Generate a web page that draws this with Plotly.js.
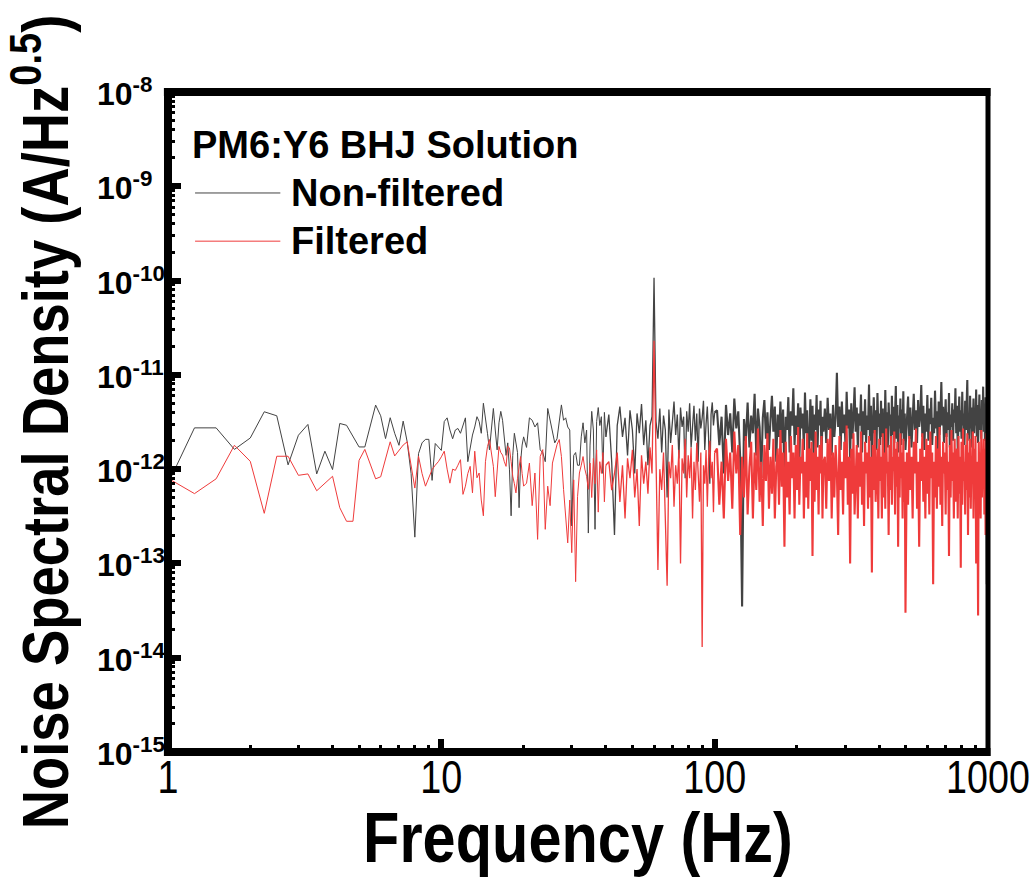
<!DOCTYPE html>
<html><head><meta charset="utf-8">
<script src="https://cdn.plot.ly/plotly-3.0.1.min.js"></script>
<style>html,body{margin:0;padding:0;background:#fff;}#chart{width:1032px;height:891px;}</style>
</head><body><div id="chart"></div>
<script>
// Frequencies (Hz)
const freqA = [1,1.25,1.5,1.75,2,2.25,2.5,2.75,3,3.25,3.5,3.75,4,4.25,4.5,4.75,5,5.25,5.5,5.75,6,6.25,6.5,6.75,7,7.25,7.5,7.75,8,8.25,8.5,8.75,9,9.25,9.5,9.75,10];
const freqB = [10.25,10.5,10.75,11,11.25,11.5,11.75,12,12.25,12.5,12.75,13,13.25,13.5,13.75,14,14.25,14.5,14.75,15,15.25,15.5,15.75,16,16.25,16.5,16.75,17,17.25,17.5,17.75,18,18.25,18.5,18.75,19,19.25,19.5,19.75,20];
const freqC = [20.5,21,21.5,22,22.5,23,23.5,24,24.5,25,25.5,26,26.5,27,27.5,28,28.5,29,29.5,30,30.5,31,31.5,32,32.5,33,33.5,34,34.5,35,35.5,36,36.5,37,37.5,38,38.5,39,39.5,40];
const freqD = [41,42,43,44,45,46,47,48,49,50,51,52,53,54,55,56,57,58,59,60,61,62,63,64,65,66,67,68,69,70,71,72,73,74,75,76,77,78,79,80,81,82,83,84,85,86,87,88,89,90,91,92,93,94,95,96,97,98,99,100];
const freqE = [102,104,106,108,110,112,114,116,118,120,122,124,126,128,130,132,134,136,138,140,142,144,146,148,150,152,154,156,158,160,162,164,166,168,170,172,174,176,178,180,182,184,186,188,190,192,194,196,198,200,202,204,206,208,210,212,214,216,218,220,222,224,226,228,230,232,234,236,238,240,242,244,246,248,250];
const freqF = [253,256,259,262,265,268,271,274,277,280,283,286,289,292,295,298,301,304,307,310,313,316,319,322,325,328,331,334,337,340,343,346,349,352,355,358,361,364,367,370,373,376,379,382,385,388,391,394,397,400,403,406,409,412,415,418,421,424,427,430,433,436,439,442,445,448,451,454,457,460,463,466,469,472,475,478,481,484,487,490,493,496,499];
const freqG = [505,510,515,520,525,530,535,540,545,550,555,560,565,570,575,580,585,590,595,600,605,610,615,620,625,630,635,640,645,650,655,660,665,670,675,680,685,690,695,700,705,710,715,720,725,730,735,740,745,750,755,760,765,770,775,780,785,790,795,800,805,810,815,820,825,830,835,840,845,850,855,860,865,870,875,880,885,890,895,900,905,910,915,920,925,930,935,940,945,950,955,960,965,970,975,980,985,990,995,1000];

// Non-filtered noise density, in units of 1e-12 A/Hz^0.5
const nonFilteredA = [0.7,2.74,2.74,1.62,2.14,4.06,3.68,1.11,2.29,2.98,0.89,1.55,0.99,3.05,2.92,2.2,1.72,1.72,3.0,4.78,3.68,2.11,3.51,2.4,1.79,3.23,1.95,0.9,0.19,1.46,1.9,2.07,2.07,0.76,1.87,1.7,1.58];
const nonFilteredB = [3.2,3.5,2.6,2.1,2.6,2.7,2.4,3.0,3.5,1.2,1.7,2.3,2.8,3.6,3.2,2.4,5.0,3.6,2.4,1.6,2.8,4.4,2.6,1.6,3.1,4.1,3.3,2.2,1.4,1.9,1.0,0.32,1.4,2.4,1.8,1.5,0.39,1.2,1.8,2.2];
const nonFilteredC = [1.7,3.5,3.3,2.8,3.1,1.6,1.5,1.2,4.4,3.3,2.4,1.9,2.1,3.1,4.8,3.3,3.5,2.8,2.6,0.25,1.4,1.5,1.1,1.1,2.2,3.1,1.9,2.6,0.21,1.8,4.1,2.6,0.23,3.2,4.5,2.9,3.6,0.9,4.0,2.2];
const nonFilteredD = [3.8,1.2,0.2,2.9,4.6,2.2,3.5,1.4,4.2,2.6,0.9,3.9,2.4,4.9,1.8,3.3,1.1,2.9,3.6,107,3.2,2.1,4.4,1.5,3.7,2.6,0.5,4.3,1.9,3.1,5.2,2.3,3.8,1.3,4.5,2.8,3.6,0.8,4.1,2.5,5.0,1.7,3.4,4.7,2.0,3.9,1.2,4.4,2.7,3.5,5.3,1.6,3.0,4.6,2.2,0.7,3.8,5.1,2.9,4.0];
const nonFilteredE = [4.2,1.8,3.6,0.9,4.8,2.3,3.9,1.5,5.6,2.7,4.1,1.3,0.035,3.4,2.0,5.1,1.7,3.7,2.4,6.3,1.4,4.4,2.8,0.8,3.5,5.4,2.1,4.0,1.6,3.3,6.0,2.5,4.6,1.2,3.8,2.2,5.2,1.9,4.3,0.7,3.6,2.6,5.8,1.5,4.1,2.9,7.2,1.8,3.7,2.3,5.0,1.1,4.5,2.7,3.9,1.6,6.5,2.4,4.2,0.9,3.4,5.5,2.0,4.7,1.4,3.8,2.6,6.1,1.7,4.3,2.9,5.3,1.3,3.6,2.5];
const nonFilteredF = [4.4,1.9,5.7,2.6,3.9,1.4,4.8,2.2,3.5,10.5,2.8,4.6,1.6,5.2,2.4,3.8,1.8,6.6,2.7,4.3,1.3,5.0,2.1,3.6,7.4,2.5,4.5,1.7,3.9,2.9,6.2,1.5,4.1,2.3,5.5,1.9,3.7,2.6,7.9,2.0,4.7,1.2,3.4,5.8,2.4,4.2,1.6,6.4,2.8,3.9,1.8,5.3,2.2,4.4,0.6,3.5,6.9,2.5,4.0,1.7,5.1,2.9,3.8,1.4,6.0,2.3,4.6,1.9,3.3,7.6,2.1,4.8,1.5,3.7,2.7,5.6,1.8,4.3,2.4,6.7,2.0,3.9,1.6];
const nonFilteredG = [3.2,5.9,2.1,4.5,1.7,3.8,6.3,2.6,4.2,1.9,5.4,2.8,3.6,7.8,2.2,4.7,1.6,3.9,2.5,6.1,2.0,4.4,3.0,5.7,1.8,3.5,2.4,6.8,2.7,4.1,1.5,5.2,2.3,3.7,8.4,2.9,4.6,1.9,3.4,5.5,2.2,4.0,2.6,6.4,1.7,3.8,2.8,5.0,2.0,4.3,3.1,7.2,2.4,4.7,1.6,3.6,5.9,2.5,4.2,2.1,6.6,2.9,3.9,1.8,5.3,2.6,4.4,8.8,2.3,3.7,2.0,6.0,2.7,4.5,1.7,3.5,5.6,2.4,4.1,2.9,7.0,2.2,4.8,1.9,3.8,6.2,2.6,4.3,2.1,5.4,3.0,7.5,2.5,4.6,2.0,5.8,3.3,0.06,4.0,2.7];

// Filtered noise density, in units of 1e-12 A/Hz^0.5
const filteredA = [0.8,0.55,0.79,1.79,1.21,0.34,1.37,1.37,0.86,0.89,0.59,0.7,0.84,0.39,0.28,0.28,1.24,1.62,1.1,0.79,0.83,1.3,1.95,1.38,1.6,1.8,1.95,1.1,0.63,1.37,0.9,0.66,0.8,0.99,1.1,1.2,1.35];
const filteredB = [1.55,1.0,0.71,1.0,0.97,1.1,1.26,0.54,0.66,0.9,1.07,0.56,1.55,0.81,0.91,0.47,0.32,1.2,1.74,2.06,1.5,1.07,0.51,1.07,1.74,1.5,1.41,1.2,1.07,1.74,1.68,1.2,0.84,0.7,0.56,0.8,1.07,1.36,0.9,0.66];
const filteredC = [0.71,1.16,0.41,0.91,0.18,1.36,1.61,0.23,0.66,0.41,1.16,1.5,1.82,2.06,1.36,0.61,0.3,0.165,0.47,0.13,0.77,0.064,0.51,0.91,1.1,1.36,1.0,0.84,0.61,1.16,0.5,1.3,0.7,1.6,0.35,1.2,0.9,1.5,0.45,1.1];
const filteredD = [1.2,0.6,0.9,1.5,0.45,1.1,0.3,1.3,0.8,1.6,0.5,1.0,0.25,1.4,0.7,1.2,0.55,1.7,0.9,23,1.3,0.085,1.0,0.6,1.5,0.35,0.058,1.2,0.8,1.8,0.4,1.1,0.7,1.6,0.1,1.3,0.9,2.1,0.5,1.4,0.8,1.7,0.3,1.2,0.6,1.9,1.0,0.45,1.5,0.013,1.1,0.7,1.6,0.4,1.3,2.0,0.8,1.2,0.35,1.5];
const filteredE = [1.65,0.42,1.2,0.3,2.1,0.75,1.5,0.38,2.5,0.9,1.8,0.2,1.35,0.5,2.25,0.33,1.05,1.95,0.3,1.5,0.6,2.7,0.45,1.2,0.25,1.8,0.75,2.4,0.38,1.35,0.55,2.1,0.3,1.05,1.65,0.42,2.6,0.65,1.5,0.15,1.95,0.5,1.2,0.33,2.25,0.8,1.5,0.3,1.8,0.6,2.8,0.42,1.35,0.9,2.1,0.3,1.2,0.5,2.4,0.38,1.65,0.75,1.95,0.12,1.5,0.45,2.5,0.6,1.35,0.33,1.8,0.9,2.25,0.3,1.2];
const filteredF = [1.35,0.38,2.1,0.75,2.7,0.3,1.5,0.5,1.8,0.9,0.2,2.25,0.6,1.2,0.33,1.95,0.8,2.9,0.42,1.35,0.1,1.65,0.55,2.4,0.33,1.05,1.8,0.3,1.5,0.65,2.5,0.42,1.2,0.25,1.95,0.9,1.5,0.38,2.25,0.5,1.35,0.08,1.8,0.6,2.6,0.45,1.05,1.65,0.3,2.1,0.75,1.35,0.3,2.4,0.5,1.5,0.38,2.7,0.9,1.2,0.2,1.8,0.6,2.25,0.42,1.35,0.95,2.5,0.33,1.65,0.65,1.95,0.15,1.35,0.5,2.4,0.8,1.5,0.3,2.1,0.45,1.2,0.03];
const filteredG = [1.5,0.42,2.25,0.6,1.35,0.3,1.95,0.9,2.7,0.38,1.2,0.15,1.65,0.75,2.4,0.45,1.35,0.3,2.1,0.55,1.8,0.33,2.5,0.8,1.5,0.06,1.2,0.5,2.25,0.38,1.65,0.65,2.8,0.42,1.35,0.25,1.95,0.9,1.5,0.33,2.4,0.6,1.2,0.12,1.8,0.5,2.6,0.75,1.5,0.3,2.1,0.45,1.05,1.65,0.3,2.25,0.55,1.35,0.09,1.95,0.42,2.7,0.75,1.2,0.33,1.8,0.6,2.4,0.2,1.5,0.5,2.1,0.38,1.35,0.95,2.5,0.3,1.65,0.6,2.25,0.1,1.2,0.45,0.028,1.95,0.75,1.5,0.3,2.6,0.5,1.35,0.9,2.1,0.33,1.65,0.2,2.4,0.42,1.5,0.65];

const UNIT = 1e-12;
const seriesNames = ['Non-filtered', 'Filtered'];
const seriesColors = ['#434343', '#ef3b3b'];
const legendTitle = 'PM6:Y6 BHJ Solution';
const xTickValues = [1, 10, 100, 1000];
const xTickLabels = ['1', '10', '100', '1000'];
const yTickExponents = [-8, -9, -10, -11, -12, -13, -14, -15];
const xTitle = 'Frequency (Hz)';
const yTitle = 'Noise Spectral Density (A/Hz<sup>0.5</sup>)';

const scale = arr => arr.map(v => v * UNIT);
const last = arr => arr[arr.length - 1];
// three frequency tiers; each tier starts at the last point of the previous one so the line is continuous
const tiers = [
  {f: [].concat(freqA, freqB, freqC), nf: [].concat(nonFilteredA, nonFilteredB, nonFilteredC), fl: [].concat(filteredA, filteredB, filteredC), w: 1},
  {f: [last(freqC)].concat(freqD), nf: [last(nonFilteredC)].concat(nonFilteredD), fl: [last(filteredC)].concat(filteredD), w: 1.3},
  {f: [last(freqD)].concat(freqE, freqF, freqG), nf: [last(nonFilteredD)].concat(nonFilteredE, nonFilteredF, nonFilteredG), fl: [last(filteredD)].concat(filteredE, filteredF, filteredG), w: 2.1}
];

const SANS = 'Liberation Sans, Arial, sans-serif';
const LEGEND_FONT = {family: SANS, size: 38, color: '#000', weight: 700};

// per tier: non-filtered first, filtered drawn over it
const traces = [];
tiers.forEach((t, i) => {
  traces.push({
    x: t.f, y: scale(t.nf), type: 'scatter', mode: 'lines', name: seriesNames[0],
    showlegend: false, line: {color: seriesColors[0], width: t.w}
  });
  traces.push({
    x: t.f, y: scale(t.fl), type: 'scatter', mode: 'lines', name: seriesNames[1],
    showlegend: false, line: {color: seriesColors[1], width: t.w}
  });
});

const yLabelAnnotations = yTickExponents.map(e => ({
  xref: 'paper', yref: 'y', x: -0.089, y: e, xanchor: 'left', yanchor: 'middle',
  text: '10<sup>' + e + '</sup>', showarrow: false,
  font: {family: SANS, size: 32, color: '#000', weight: 700}
}));

// legend box (top-left, inside the frame): title row then one row per series
const legendLeft = 0.027, legendTop = 0.92, legendRow = 0.073;
const legendAnnotations = [
  {xref: 'paper', yref: 'paper', x: legendLeft, y: legendTop, xanchor: 'left', yanchor: 'middle',
   text: legendTitle, showarrow: false, font: LEGEND_FONT}
].concat(seriesNames.map((n, i) => ({
  xref: 'paper', yref: 'paper', x: legendLeft + 0.12, y: legendTop - legendRow * (i + 1),
  xanchor: 'left', yanchor: 'middle', text: n, showarrow: false, font: LEGEND_FONT
})));
const legendShapes = seriesNames.map((n, i) => ({
  type: 'line', xref: 'paper', yref: 'paper',
  x0: legendLeft + 0.006, x1: legendLeft + 0.11,
  y0: legendTop - legendRow * (i + 1), y1: legendTop - legendRow * (i + 1),
  line: {color: seriesColors[i], width: 1}
}));

const layout = {
  width: 1032, height: 891,
  margin: {l: 168, r: 44, t: 92, b: 139, pad: 0},
  paper_bgcolor: '#fff', plot_bgcolor: '#fff',
  showlegend: false,
  xaxis: {
    type: 'log', range: [0, 3], autorange: false,
    showgrid: false, zeroline: false, showline: false,
    ticks: 'inside', ticklen: 13, tickwidth: 6, tickcolor: '#000',
    tickmode: 'array', tickvals: xTickValues, ticktext: xTickLabels,
    tickfont: {family: SANS, size: 46, color: '#000'},
    ticklabelstandoff: -6, ticklabeloverflow: 'allow',
    minor: {ticks: 'inside', ticklen: 7, tickwidth: 3, tickcolor: '#000', dtick: 'D1', showgrid: false},
    title: {text: xTitle, font: {family: SANS, size: 70, color: '#000', weight: 700}, standoff: 0},
    automargin: false
  },
  yaxis: {
    type: 'log', range: [-15, -8], autorange: false,
    showgrid: false, zeroline: false, showline: false,
    ticks: 'inside', ticklen: 13, tickwidth: 6, tickcolor: '#000',
    tickmode: 'array', tickvals: yTickExponents.map(e => Math.pow(10, e)),
    showticklabels: false,
    minor: {ticks: 'inside', ticklen: 7, tickwidth: 3, tickcolor: '#000', dtick: 'D1', showgrid: false},
    title: {text: yTitle, font: {family: SANS, size: 64, color: '#000', weight: 700}, standoff: 88},
    automargin: false
  },
  annotations: yLabelAnnotations.concat(legendAnnotations),
  shapes: [
    {type: 'line', xref: 'paper', yref: 'paper', x0: 0, x1: 0, y0: -0.006, y1: 1.006, line: {color: '#000', width: 8}},
    {type: 'line', xref: 'paper', yref: 'paper', x0: -0.005, x1: 1.003, y0: 0, y1: 0, line: {color: '#000', width: 8}},
    {type: 'line', xref: 'paper', yref: 'paper', x0: -0.005, x1: 1.003, y0: 1, y1: 1, line: {color: '#000', width: 8}},
    {type: 'line', xref: 'paper', yref: 'paper', x0: 1, x1: 1, y0: -0.006, y1: 1.006, line: {color: '#000', width: 5}}
  ].concat(legendShapes)
};

// the original uses condensed lettering for the axis titles and x tick labels
function condense(selector, ratio) {
  document.querySelectorAll(selector).forEach(t => {
    const w = t.getComputedTextLength();
    if (w > 0) {
      t.setAttribute('textLength', (w * ratio).toFixed(1));
      t.setAttribute('lengthAdjust', 'spacingAndGlyphs');
    }
  });
}

Plotly.newPlot('chart', traces, layout, {staticPlot: true, displayModeBar: false}).then(() => {
  condense('.xtitle', 0.85);
  condense('.ytitle', 0.85);
  condense('.xtick text', 0.82);
  const xt = document.querySelector('.xtitle');
  if (xt) xt.setAttribute('y', (parseFloat(xt.getAttribute('y')) - 4).toFixed(1));
});
</script>
</body></html>
